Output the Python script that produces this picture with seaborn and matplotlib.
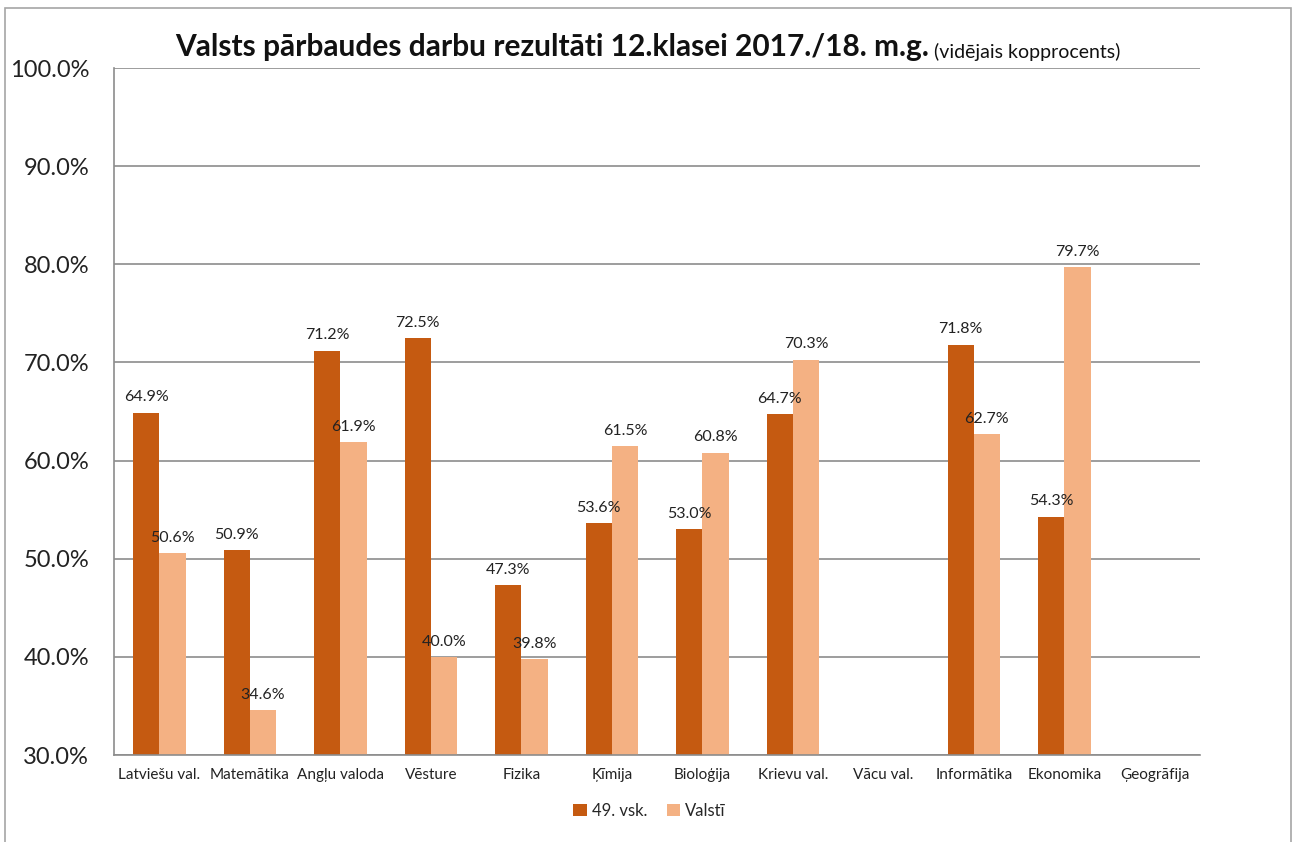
import numpy as np
import pandas as pd
import matplotlib
matplotlib.use("Agg")
import matplotlib.pyplot as plt
from matplotlib.patches import Rectangle
from matplotlib.ticker import PercentFormatter
import seaborn as sns

# ===== Data =====
subjects = ["Latviešu val.", "Matemātika", "Angļu valoda", "Vēsture", "Fizika", "Ķīmija",
            "Bioloģija", "Krievu val.", "Vācu val.", "Informātika", "Ekonomika", "Ģeogrāfija"]
school = [64.9, 50.9, 71.2, 72.5, 47.3, 53.6, 53.0, 64.7, np.nan, 71.8, 54.3, np.nan]
country = [50.6, 34.6, 61.9, 40.0, 39.8, 61.5, 60.8, 70.3, np.nan, 62.7, 79.7, np.nan]
series_names = ["49. vsk.", "Valstī"]
colors = ["#C55A11", "#F4B183"]

df = pd.DataFrame({
    "Subject": subjects * 2,
    "Series": [series_names[0]] * len(subjects) + [series_names[1]] * len(subjects),
    "Value": [v / 100 for v in school + country],
}).dropna()

sns.set_style("white")
plt.rcParams["font.family"] = ["Lato", "DejaVu Sans"]

fig = plt.figure(figsize=(12.99, 8.42), dpi=100)
ax = fig.add_axes([0.0878, 0.1033, 0.8360, 0.8159])

sns.barplot(data=df, x="Subject", y="Value", hue="Series", order=subjects,
            hue_order=series_names, palette=colors, width=0.58, gap=0,
            saturation=1, errorbar=None, linewidth=0, ax=ax, legend=True)

ax.set_ylim(0.3, 1.0)
ax.set_yticks(np.arange(0.3, 1.01, 0.1))
ax.yaxis.set_major_formatter(PercentFormatter(1, decimals=1))
ax.set_xlim(-0.5, len(subjects) - 0.5)
ax.set_xlabel("")
ax.set_ylabel("")
ax.grid(axis="y", color="#8C8C8C", linewidth=1.2)
ax.set_axisbelow(True)
for side in ["top", "right"]:
    ax.spines[side].set_visible(False)
for side in ["left", "bottom"]:
    ax.spines[side].set_color("#8C8C8C")
    ax.spines[side].set_linewidth(1.2)
ax.tick_params(axis="y", length=0, pad=18, labelsize=17, labelcolor="#222222")
ax.tick_params(axis="x", length=0, pad=9, labelsize=11, labelcolor="#222222")

for cont in ax.containers:
    ax.bar_label(cont, fmt=lambda v: f"{v * 100:.1f}%", padding=6, fontsize=11.5, color="#222222")

leg = ax.legend(loc="center", bbox_to_anchor=(0.5, 0.037), bbox_transform=fig.transFigure,
                ncol=2, frameon=False, fontsize=12, handlelength=0.8, handleheight=0.8,
                handletextpad=0.3, columnspacing=1.2)

# title: bold part + small note
t = fig.text(0.135, 0.934, "Valsts pārbaudes darbu rezultāti 12.klasei 2017./18. m.g.",
             fontsize=21.5, fontweight="bold", ha="left", va="baseline", color="#111111")
ax.annotate(" (vidējais kopprocents)", xy=(1, 0), xycoords=t, va="bottom", ha="left",
            fontsize=14, color="#111111")

# outer chart border
fig.patches.append(Rectangle((0.004, -0.05), 0.990, 1.04, transform=fig.transFigure,
                             fill=False, edgecolor="#A6A6A6", linewidth=1.2))

fig.savefig("out.png", dpi=100)
